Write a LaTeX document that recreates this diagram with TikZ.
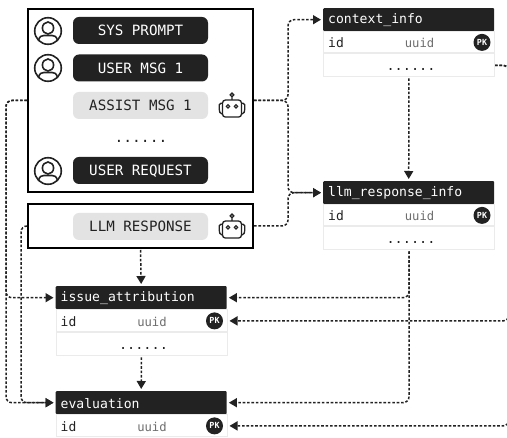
\documentclass[tikz,border=0pt]{standalone}
\usepackage{fontspec}
\setmainfont{Liberation Sans}
\newfontfamily\pmono{DejaVu Sans Mono}
\usetikzlibrary{arrows.meta}
\definecolor{ink}{HTML}{222222}
\definecolor{pale}{HTML}{E3E3E3}
\definecolor{rule}{HTML}{EBEBEB}
\definecolor{soft}{HTML}{6E6E6E}
\tikzset{
  frame/.style={draw=black,line width=2pt,fill=white,minimum width=225pt,inner sep=0pt},
  pill/.style={rounded corners=6pt,minimum width=135pt,minimum height=27pt,inner sep=0pt,
    text height=10.4pt,text depth=0pt,font=\pmono\fontsize{14.2}{16}\selectfont},
  darkpill/.style={pill,fill=ink,text=white},
  lightpill/.style={pill,fill=pale,text=ink},
  dots/.style={text=ink,inner sep=0pt},
  thead/.style={fill=ink,text=white,rounded corners=1pt,minimum width=171pt,minimum height=23pt,inner sep=0pt,anchor=north west},
  trow/.style={draw=rule,line width=1pt,fill=white,minimum width=171pt,inner sep=0pt,anchor=north west},
  ttitle/.style={text=white,inner sep=0pt,anchor=west,font=\pmono\fontsize{13.1}{15}\selectfont},
  tid/.style={text=ink,inner sep=0pt,anchor=west,font=\pmono\fontsize{13}{15}\selectfont},
  ttype/.style={text=soft,inner sep=0pt,font=\pmono\fontsize{12.2}{15}\selectfont},
  pkbadge/.style={circle,fill=ink,text=white,minimum size=17pt,inner sep=0pt,font=\pmono\bfseries\fontsize{8.4}{9}\selectfont},
  conn/.style={draw=ink,line width=1.5pt,dash pattern=on 2.6pt off 1.8pt,rounded corners=6pt},
  arr/.style={conn,-{Triangle[length=8pt,width=9pt,fill=ink]},shorten >=2pt},
  usericon/.pic={
    \draw[ink,line width=1.6pt] (0,0) circle (13.3pt);
    \draw[ink,line width=1.6pt] (0,-3) ellipse (5.6pt and 6pt);
    \draw[ink,line width=1.6pt] (-9.5,9.5) .. controls (-8.5,5) and (-6,4.5) .. (-4,4.5)
       -- (4,4.5) .. controls (6,4.5) and (8.5,5) .. (9.5,9.5);
  },
  roboticon/.pic={
    \draw[ink,line width=1.3pt,fill=white,rounded corners=3pt] (-9.5,-5.7) rectangle (9.5,11.4);
    \draw[ink,line width=1.3pt] (0,-10.8) circle (1.8pt) (0,-9) -- (0,-5.7);
    \draw[ink,line width=1.3pt,rounded corners=1.5pt] (-9.5,-2.5) -- (-12.5,-2.5) -- (-13,2) -- (-12,8) -- (-9.5,8);
    \draw[ink,line width=1.3pt,rounded corners=1.5pt] (9.5,-2.5) -- (12.5,-2.5) -- (13,2) -- (12,8) -- (9.5,8);
    \draw[ink,line width=1.1pt] (-4,0.6) circle (1.7pt) (4,0.6) circle (1.7pt);
  }
}
% name, x, y, title, row-one height, row-two height
\newcommand{\dbtable}[6]{
  \node[thead] (#1h) at (#2,#3) {};
  \node[ttitle] at ([xshift=5pt,yshift=-0.8pt]#1h.west) {#4};
  \node[trow,minimum height=#5pt] (#1i) at (#1h.south west) {};
  \node[tid] at ([xshift=5pt,yshift=-0.6pt]#1i.west) {id};
  \node[ttype] at ([xshift=10.5pt,yshift=-0.6pt]#1i.center) {uuid};
  \node[pkbadge] at ([xshift=-13pt]#1i.east) {PK};
  \ifnum#6>0
    \node[trow,minimum height=#6pt] (#1d) at (#1i.south west) {};
    \node[dots,font=\pmono\fontsize{13.5}{15}\selectfont] at ([xshift=2pt,yshift=-4.5pt]#1d.center) {......};
  \fi
}
\begin{document}
\begin{tikzpicture}[x=1pt,y=-1pt]
\clip (0,0) rectangle (507,438);
\fill[white] (0,0) rectangle (507,438);

% frames
\node[frame,minimum height=183pt] (box1) at (140.5,100.5) {};
\node[frame,minimum height=44pt] (box2) at (140.5,226) {};

% messages
\node[darkpill] (sys) at (140.5,30.5) {SYS PROMPT};
\node[darkpill] (usr) at (140.5,68) {USER MSG 1};
\node[lightpill] (ast) at (140.5,105.5) {ASSIST MSG 1};
\node[dots,font=\pmono\fontsize{14.6}{16}\selectfont] (gap) at (141,141) {......};
\node[darkpill] (req) at (140.5,170.5) {USER REQUEST};
\node[lightpill] (res) at (140.5,226.5) {LLM RESPONSE};

% icons
\pic at (48,31) {usericon};
\pic at (48,68) {usericon};
\pic at (48,171) {usericon};
\pic at (232,105.7) {roboticon};
\pic at (232,226.7) {roboticon};

% tables
\dbtable{ctx}{323}{8}{context\_info}{21}{23}
\dbtable{llm}{323}{181}{llm\_response\_info}{21}{23}
\dbtable{iss}{55.5}{286}{issue\_attribution}{22}{23}
\dbtable{evl}{55.5}{391}{evaluation}{22}{0}

% routing points
\coordinate (busR) at (288,100.5);
\coordinate (busB) at (288,226);
\coordinate (busL) at (6,100.5);
\coordinate (busM) at (21,226);
\coordinate (busE) at (509,200);

% connectors
\draw[arr] (box1.east) -- (busR) |- (ctxh.west);
\draw[arr] (box1.east) -- (busR) |- (llmh.west);
\draw[arr] (box2.east) -- (busB) |- (llmh.west);
\draw[arr] (box1.west) -- (busL) |- (issh.west);
\draw[arr] (box1.west) -- (busL) |- (evlh.west);
\draw[arr] (box2.west) -- (busM) |- (evlh.west);
\draw[arr,shorten <=1pt] (box2.south) -- (issh.north);
\draw[arr,shorten <=1pt] (issd.south) -- (evlh.north);
\draw[arr,shorten <=1pt] (ctxd.south) -- (llmh.north);
\draw[arr,shorten <=1pt] (llmd.south) |- (issh.east);
\draw[arr,shorten <=1pt] (llmd.south) |- (evlh.east);
\draw[arr] (ctxd.east) -| (busE) |- (issi.east);
\draw[arr] (ctxd.east) -| (busE) |- (evli.east);
\end{tikzpicture}
\end{document}
